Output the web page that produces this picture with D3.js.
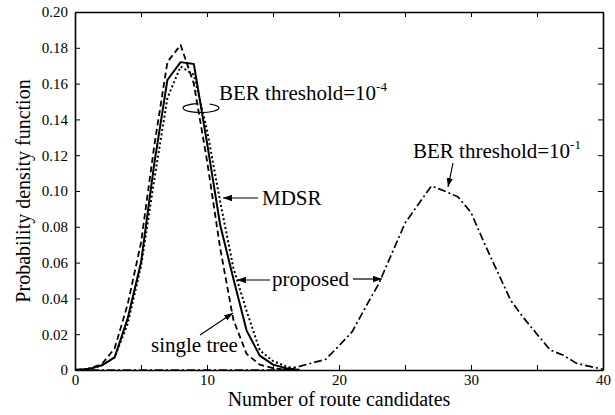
<!DOCTYPE html>
<html>
<head>
<meta charset="utf-8">
<script src="https://cdn.jsdelivr.net/npm/d3@7"></script>
<style>
  body { margin: 0; background: #fff; }
  svg text { font-family: "Liberation Serif", "Times New Roman", serif; fill: #000; }
  .axis path, .axis line { stroke: #000; }
</style>
</head>
<body>
<div id="chart"></div>
<script>
// BER threshold = 10^-4 (0..17 candidates)
const lowX = [0, 1, 2, 3, 4, 5, 6, 7, 8, 9, 10, 11, 12, 13, 14, 15, 16, 17];
const mdsr4 = [0, 0.0005, 0.0025, 0.007, 0.029, 0.060, 0.115, 0.162, 0.172, 0.171, 0.127, 0.081, 0.051, 0.022, 0.008, 0.003, 0.001, 0];
const proposed4 = [0, 0.0005, 0.0025, 0.007, 0.026, 0.058, 0.106, 0.152, 0.1695, 0.165, 0.134, 0.094, 0.057, 0.033, 0.011, 0.005, 0.002, 0];
const single4 = [0, 0.0008, 0.003, 0.012, 0.037, 0.071, 0.125, 0.172, 0.1816, 0.160, 0.117, 0.068, 0.028, 0.009, 0.003, 0.001, 0, 0];

// BER threshold = 10^-1 (0..40 candidates)
const highX = [0, 1, 2, 3, 4, 5, 6, 7, 8, 9, 10, 11, 12, 13, 14, 15, 16, 17, 18, 19, 20,
  21, 22, 23, 24, 25, 26, 27, 28, 29, 30, 31, 32, 33, 34, 35, 36, 37, 38, 39, 40];
const all1 = [0, 0, 0, 0, 0, 0, 0, 0, 0, 0, 0, 0, 0, 0, 0, 0, 0.0005, 0.002, 0.004, 0.006, 0.0135,
  0.0214, 0.035, 0.048, 0.065, 0.082, 0.0925, 0.1028, 0.100, 0.0968, 0.088, 0.071, 0.055, 0.039, 0.029, 0.020, 0.0112, 0.0082, 0.0037, 0.002, 0.0004];

const xTicks = [0, 5, 10, 15, 20, 25, 30, 35, 40];
const yTicks = [0, 0.02, 0.04, 0.06, 0.08, 0.10, 0.12, 0.14, 0.16, 0.18, 0.20];

const width = 615, height = 415;
const margin = { top: 12, right: 12, bottom: 45, left: 75 };
const serif = "Liberation Serif, Times New Roman, serif";

const svg = d3.select("#chart").append("svg")
  .attr("width", width)
  .attr("height", height);

const x = d3.scaleLinear().domain([0, 40]).range([margin.left, width - margin.right]);
const y = d3.scaleLinear().domain([0, 0.2]).range([height - margin.bottom, margin.top]);

// arrow head
svg.append("defs").append("marker")
  .attr("id", "arrow")
  .attr("viewBox", "0 0 10 10")
  .attr("refX", 10).attr("refY", 5)
  .attr("markerWidth", 9).attr("markerHeight", 9)
  .attr("markerUnits", "userSpaceOnUse")
  .attr("orient", "auto")
  .append("path")
  .attr("d", "M0,1.5 L10,5 L0,8.5 Z")
  .attr("fill", "#000");

// curves
const line = d3.line()
  .x(d => x(d[0]))
  .y(d => y(d[1]));

const series = [
  { xs: lowX, ys: mdsr4, dash: null, w: 2 },
  { xs: lowX, ys: single4, dash: "6,3.5", w: 1.8 },
  { xs: lowX, ys: proposed4, dash: "2,2.5", w: 2 },
  { xs: highX, ys: all1, dash: "8,3,2,3", w: 1.7 }
];

series.forEach(s => {
  svg.append("path")
    .datum(s.xs.map((v, i) => [v, s.ys[i]]))
    .attr("fill", "none")
    .attr("stroke", "#000")
    .attr("stroke-width", s.w)
    .attr("stroke-dasharray", s.dash)
    .attr("stroke-linejoin", "round")
    .attr("d", line);
});

// axes (ticks inward, MATLAB style box)
const fmtY = d => d === 0 ? "0" : d3.format(".2f")(d);

svg.append("g").attr("class", "axis")
  .attr("transform", `translate(0,${y(0)})`)
  .call(d3.axisBottom(x).tickValues(xTicks).tickSizeInner(-5).tickSizeOuter(0).tickPadding(4)
    .tickFormat(d => d % 10 === 0 ? d : ""));

svg.append("g").attr("class", "axis")
  .attr("transform", `translate(0,${y(0.2)})`)
  .call(d3.axisTop(x).tickValues(xTicks).tickSizeInner(-5).tickSizeOuter(0).tickFormat(""));

svg.append("g").attr("class", "axis")
  .attr("transform", `translate(${x(0)},0)`)
  .call(d3.axisLeft(y).tickValues(yTicks).tickSizeInner(-5).tickSizeOuter(0).tickPadding(7)
    .tickFormat(fmtY));

svg.append("g").attr("class", "axis")
  .attr("transform", `translate(${x(40)},0)`)
  .call(d3.axisRight(y).tickValues(yTicks).tickSizeInner(-5).tickSizeOuter(0).tickFormat(""));

svg.selectAll(".axis").attr("font-family", serif).attr("font-size", 15);
svg.selectAll(".axis .domain").attr("stroke-width", 1.6);

// axis titles
svg.append("text")
  .attr("x", (x(0) + x(40)) / 2)
  .attr("y", 406)
  .attr("text-anchor", "middle")
  .attr("font-family", serif)
  .attr("font-size", 20)
  .text("Number of route candidates");

svg.append("text")
  .attr("transform", `translate(30,${(y(0) + y(0.2)) / 2}) rotate(-90)`)
  .attr("text-anchor", "middle")
  .attr("font-family", serif)
  .attr("font-size", 20)
  .text("Probability density function");

// annotations
function label(tx, ty, str, sup) {
  const t = svg.append("text")
    .attr("x", tx).attr("y", ty)
    .attr("font-family", serif)
    .attr("font-size", 21)
    .text(str);
  if (sup) {
    t.append("tspan")
      .attr("dy", -9)
      .attr("font-size", 13)
      .text(sup);
  }
}

function arrow(x1, y1, x2, y2) {
  svg.append("line")
    .attr("x1", x1).attr("y1", y1)
    .attr("x2", x2).attr("y2", y2)
    .attr("stroke", "#000")
    .attr("stroke-width", 1.2)
    .attr("marker-end", "url(#arrow)");
}

label(219, 100, "BER threshold=10", "-4");
// open ellipse around the 10^-4 curves
svg.append("path")
  .attr("d", d3.arc()({ innerRadius: 0, outerRadius: 1, startAngle: 0.5, endAngle: 2 * Math.PI - 0.15 })
    .replace(/L0,0Z$/, "").replace(/Z$/, ""))
  .attr("transform", "translate(201,108) scale(18,4.5)")
  .attr("fill", "none")
  .attr("stroke", "#000")
  .attr("stroke-width", 1.2)
  .attr("vector-effect", "non-scaling-stroke");

label(262, 205, "MDSR");
arrow(258, 198, 223, 198);

label(272, 286, "proposed");
arrow(270, 280, 237, 280);
arrow(353, 279, 382, 279);

label(151, 352, "single tree");
arrow(200, 335, 233, 313);

label(413, 158, "BER threshold=10", "-1");
arrow(453, 163, 448, 187);
</script>
</body>
</html>
